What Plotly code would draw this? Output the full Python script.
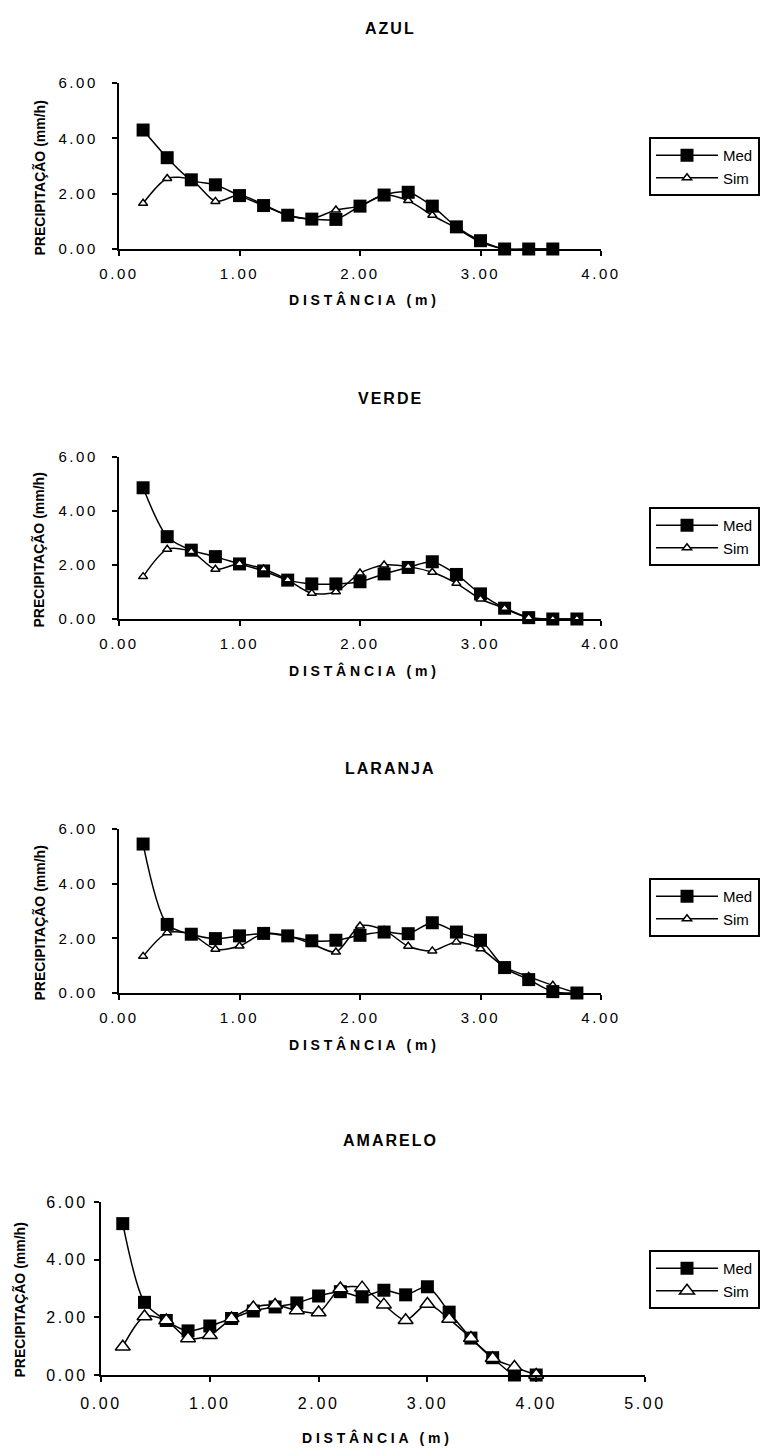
import plotly.graph_objects as go

# ---------------- data ----------------
titles = ["AZUL", "VERDE", "LARANJA", "AMARELO"]

x_azul = [0.2, 0.4, 0.6, 0.8, 1.0, 1.2, 1.4, 1.6, 1.8, 2.0, 2.2, 2.4, 2.6, 2.8, 3.0, 3.2, 3.4, 3.6]
azul_med = [4.30, 3.30, 2.50, 2.32, 1.93, 1.57, 1.22, 1.08, 1.07, 1.55, 1.95, 2.05, 1.55, 0.80, 0.30, 0.00, 0.00, 0.00]
azul_sim = [1.65, 2.55, 2.50, 1.72, 1.95, 1.60, 1.22, 1.10, 1.41, 1.55, 1.95, 1.75, 1.22, 0.75, 0.25, 0.00, 0.00, 0.00]

x_verde = [0.2, 0.4, 0.6, 0.8, 1.0, 1.2, 1.4, 1.6, 1.8, 2.0, 2.2, 2.4, 2.6, 2.8, 3.0, 3.2, 3.4, 3.6, 3.8]
verde_med = [4.86, 3.05, 2.55, 2.31, 2.04, 1.78, 1.44, 1.30, 1.30, 1.38, 1.67, 1.91, 2.12, 1.65, 0.93, 0.40, 0.05, 0.00, 0.00]
verde_sim = [1.57, 2.58, 2.50, 1.84, 2.05, 1.85, 1.45, 0.95, 1.01, 1.70, 2.00, 1.94, 1.73, 1.32, 0.74, 0.40, 0.05, 0.00, 0.00]

x_laranja = [0.2, 0.4, 0.6, 0.8, 1.0, 1.2, 1.4, 1.6, 1.8, 2.0, 2.2, 2.4, 2.6, 2.8, 3.0, 3.2, 3.4, 3.6, 3.8]
laranja_med = [5.45, 2.51, 2.15, 1.99, 2.09, 2.18, 2.09, 1.91, 1.93, 2.11, 2.23, 2.17, 2.57, 2.23, 1.93, 0.93, 0.49, 0.05, 0.00]
laranja_sim = [1.34, 2.20, 2.15, 1.60, 1.72, 2.18, 2.09, 1.80, 1.50, 2.45, 2.30, 1.71, 1.54, 1.87, 1.62, 0.95, 0.60, 0.28, 0.00]

x_amarelo = [0.2, 0.4, 0.6, 0.8, 1.0, 1.2, 1.4, 1.6, 1.8, 2.0, 2.2, 2.4, 2.6, 2.8, 3.0, 3.2, 3.4, 3.6, 3.8, 4.0]
amarelo_med = [5.25, 2.52, 1.89, 1.53, 1.70, 1.96, 2.22, 2.36, 2.50, 2.74, 2.89, 2.71, 2.94, 2.78, 3.06, 2.18, 1.28, 0.60, 0.00, 0.00]
amarelo_sim = [0.98, 2.03, 1.89, 1.27, 1.38, 1.96, 2.34, 2.43, 2.24, 2.17, 3.00, 3.03, 2.44, 1.90, 2.46, 1.94, 1.28, 0.58, 0.28, 0.00]

y_ticks = [0, 2, 4, 6]
y_ticklabels = ["0.00", "2.00", "4.00", "6.00"]
x_ticks_a = [0, 1, 2, 3, 4]
x_ticklabels_a = ["0.00", "1.00", "2.00", "3.00", "4.00"]
x_ticks_b = [0, 1, 2, 3, 4, 5]
x_ticklabels_b = ["0.00", "1.00", "2.00", "3.00", "4.00", "5.00"]

series_names = ["Med", "Sim"]
x_title = "DISTÂNCIA (m)"
y_title = "PRECIPITAÇÃO (mm/h)"

# ---------------- layout geometry (pixels) ----------------
W, H = 768, 1448
FONT = "Liberation Sans, Arial, sans-serif"

panels = [
    dict(x=x_azul, med=azul_med, sim=azul_sim, xl=119, xr=601, yt=83, yb=249, xmax=4,
         xt=x_ticks_a, xtl=x_ticklabels_a, title_y=28, leg=(649, 137), sim_size=8, sim_top=False,
         tfs=15, ystand=11, xstand=5, ytx=38.5, xty=51),
    dict(x=x_verde, med=verde_med, sim=verde_sim, xl=119, xr=601, yt=457, yb=619, xmax=4,
         xt=x_ticks_a, xtl=x_ticklabels_a, title_y=398, leg=(649, 507), sim_size=8, sim_top=True,
         tfs=15, ystand=11, xstand=5, ytx=38.5, xty=51),
    dict(x=x_laranja, med=laranja_med, sim=laranja_sim, xl=119, xr=601, yt=829, yb=993, xmax=4,
         xt=x_ticks_a, xtl=x_ticklabels_a, title_y=768, leg=(649, 878), sim_size=8, sim_top=False,
         tfs=15, ystand=11, xstand=5, ytx=38.5, xty=51),
    dict(x=x_amarelo, med=amarelo_med, sim=amarelo_sim, xl=101, xr=645, yt=1202, yb=1375, xmax=5,
         xt=x_ticks_b, xtl=x_ticklabels_b, title_y=1140, leg=(649, 1250), sim_size=13, sim_top=True,
         tfs=16, ystand=3, xstand=8, ytx=19, xty=62),
]


def px(x):
    return x / W


def py(y):
    return 1 - y / H


def spaced(t, s):
    return '<span style="letter-spacing:%spx">%s</span>' % (s, t)


fig = go.Figure()
layout = dict(
    width=W, height=H, margin=dict(l=0, r=0, t=0, b=0, autoexpand=False),
    paper_bgcolor="white", plot_bgcolor="white",
    font=dict(family=FONT, color="black", size=14),
    showlegend=True,
)
annotations = []

for i, p in enumerate(panels):
    n = i + 1
    xa = "x" if n == 1 else "x%d" % n
    ya = "y" if n == 1 else "y%d" % n
    lg = "legend" if n == 1 else "legend%d" % n

    med_tr = go.Scatter(
        x=p["x"], y=p["med"], name=series_names[0], mode="lines+markers",
        line=dict(color="black", width=1.5, shape="spline", smoothing=0.8),
        marker=dict(symbol="square", size=13, color="black", line=dict(width=0)),
        xaxis=xa, yaxis=ya, legend=lg, legendrank=1, cliponaxis=False,
    )
    sim_tr = go.Scatter(
        x=p["x"], y=p["sim"], name=series_names[1], mode="lines+markers",
        line=dict(color="black", width=1.5, shape="spline", smoothing=0.8),
        marker=dict(symbol="triangle-up", size=p["sim_size"], color="white",
                    line=dict(color="black", width=1.5)),
        xaxis=xa, yaxis=ya, legend=lg, legendrank=2, cliponaxis=False,
    )
    if p["sim_top"]:
        fig.add_trace(med_tr)
        fig.add_trace(sim_tr)
    else:
        fig.add_trace(sim_tr)
        fig.add_trace(med_tr)

    axis_common = dict(
        showline=True, linecolor="black", linewidth=2,
        ticks="outside", ticklen=5, tickwidth=2, tickcolor="black",
        showgrid=False, zeroline=False, fixedrange=True, automargin=False,
        tickfont=dict(family=FONT, size=p["tfs"], color="black"),
    )
    layout["xaxis" if n == 1 else "xaxis%d" % n] = dict(
        axis_common, domain=[px(p["xl"]), px(p["xr"])], range=[0, p["xmax"]],
        anchor=ya, tickmode="array", tickvals=p["xt"],
        ticktext=[spaced(t, 2.6) for t in p["xtl"]], ticklabelstandoff=p["xstand"],
    )
    layout["yaxis" if n == 1 else "yaxis%d" % n] = dict(
        axis_common, domain=[py(p["yb"]), py(p["yt"])], range=[0, 6],
        anchor=xa, tickmode="array", tickvals=y_ticks,
        ticktext=[spaced(t, 2.6) for t in y_ticklabels], ticklabelstandoff=p["ystand"],
    )
    layout[lg] = dict(
        x=px(p["leg"][0]), y=py(p["leg"][1]), xanchor="left", yanchor="top",
        xref="paper", yref="paper",
        bordercolor="black", borderwidth=2, bgcolor="white",
        font=dict(family=FONT, size=15, color="black"),
        itemwidth=62, traceorder="normal",
    )

    cx = (p["xl"] + p["xr"]) / 2
    # chart title
    annotations.append(dict(
        text=spaced("<b>%s</b>" % titles[i], 2), x=px(390), y=py(p["title_y"]),
        xref="paper", yref="paper", showarrow=False, xanchor="center", yanchor="middle",
        font=dict(family=FONT, size=16, color="black"),
    ))
    # x axis title
    annotations.append(dict(
        text=spaced("<b>%s</b>" % x_title, 3.8), x=px(cx + 4), y=py(p["yb"] + p["xty"]),
        xref="paper", yref="paper", showarrow=False, xanchor="center", yanchor="middle",
        font=dict(family=FONT, size=14, color="black"),
    ))
    # y axis title
    annotations.append(dict(
        text="<b>%s</b>" % y_title, x=px(p["ytx"]), y=py((p["yt"] + p["yb"]) / 2 + 12),
        xref="paper", yref="paper", showarrow=False, xanchor="center", yanchor="middle",
        textangle=-90, font=dict(family=FONT, size=14, color="black"),
    ))

layout["annotations"] = annotations
fig.update_layout(**layout)
fig.write_html("out.html")
